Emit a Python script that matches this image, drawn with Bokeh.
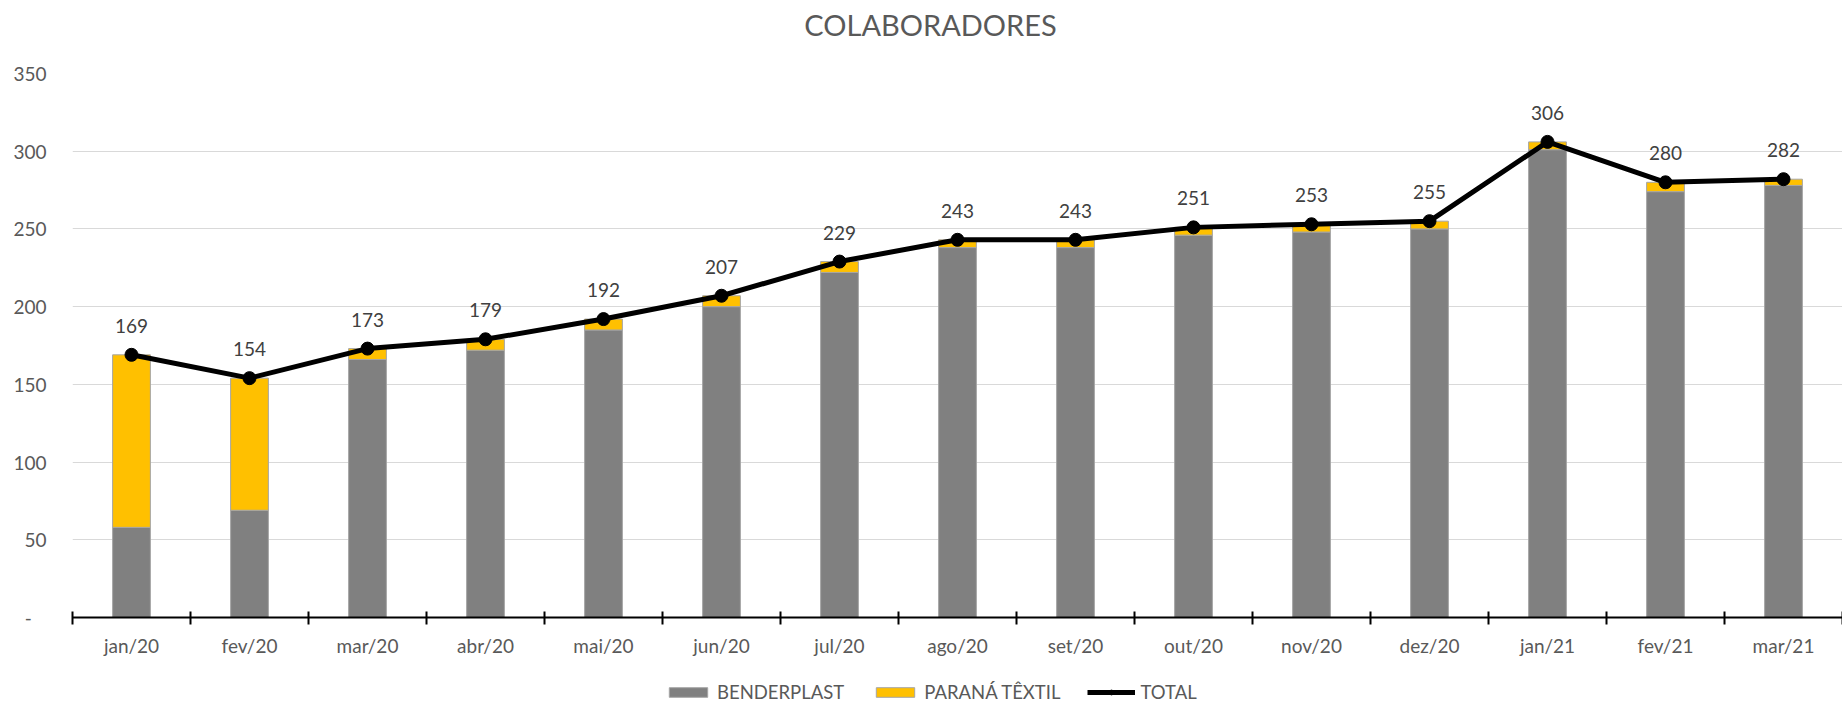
from bokeh.plotting import figure
from bokeh.layouts import column
from bokeh.models import Range1d, FixedTicker, Legend, LegendItem, ColumnDataSource, Label
from bokeh.core.properties import value
from bokeh.embed import file_html
from bokeh.resources import INLINE

months = ["jan/20", "fev/20", "mar/20", "abr/20", "mai/20", "jun/20", "jul/20", "ago/20",
          "set/20", "out/20", "nov/20", "dez/20", "jan/21", "fev/21", "mar/21"]
benderplast = [58, 69, 166, 172, 185, 200, 222, 238, 238, 246, 248, 250, 301, 274, 278]
parana = [111, 85, 7, 7, 7, 7, 7, 5, 5, 5, 5, 5, 5, 6, 4]
total = [169, 154, 173, 179, 192, 207, 229, 243, 243, 251, 253, 255, 306, 280, 282]
series_names = ["BENDERPLAST", "PARANÁ TÊXTIL", "TOTAL"]
chart_title = "COLABORADORES"
y_ticks = [0, 50, 100, 150, 200, 250, 300, 350]

FONT = "Lato"
GRAY_TXT = "#595959"
C_BENDER = "#808080"
C_PARANA = "#FFC000"
C_OUTLINE = "#A5A5A5"
W = 1842
LEFT = 72


def bare(height):
    f = figure(width=W, height=height, x_range=Range1d(-0.5, len(months) - 0.5),
               y_range=Range1d(1000, 1001), output_backend="svg", toolbar_location=None,
               x_axis_location=None, y_axis_location=None,
               min_border_left=LEFT, min_border_right=0, min_border_top=0, min_border_bottom=0)
    f.grid.visible = False
    f.outline_line_color = None
    return f


xs = list(range(len(months)))
src = ColumnDataSource(dict(x=xs, b=benderplast, p=parana, t=total,
                            tl=[str(v) for v in total]))

# ---- title strip
tf = bare(53)
tf.add_layout(Label(x=858, y=29.5, x_units="screen", y_units="screen", text=chart_title,
                    text_align="center", text_baseline="middle", text_font=FONT,
                    text_font_size="29px", text_color=GRAY_TXT))

# ---- main chart
p = figure(width=W, height=615, x_range=Range1d(-0.5, len(months) - 0.5),
           y_range=Range1d(0, 350), output_backend="svg", toolbar_location=None,
           min_border_left=LEFT, min_border_right=0, min_border_top=20, min_border_bottom=51)
p.outline_line_color = None

xa = p.xaxis[0]
xa.ticker = FixedTicker(ticks=xs, minor_ticks=[i - 0.5 for i in range(len(months) + 1)])
xa.major_label_overrides = {i: m for i, m in enumerate(months)}
xa.major_tick_line_color = None
xa.major_tick_in = 0
xa.major_tick_out = 0
xa.minor_tick_in = 6
xa.minor_tick_out = 7
xa.minor_tick_line_color = "black"
xa.minor_tick_line_width = 2
xa.axis_line_color = "black"
xa.axis_line_width = 2
xa.major_label_standoff = 9
xa.major_label_text_font = FONT
xa.major_label_text_font_size = "19px"
xa.major_label_text_color = GRAY_TXT

ya = p.yaxis[0]
ya.ticker = FixedTicker(ticks=y_ticks)
ya.major_label_overrides = {0: "-\u00a0\u00a0\u00a0"}
ya.axis_line_color = None
ya.major_tick_line_color = None
ya.minor_tick_line_color = None
ya.major_tick_in = 0
ya.major_tick_out = 0
ya.major_label_standoff = 26
ya.major_label_text_font = FONT
ya.major_label_text_font_size = "19px"
ya.major_label_text_color = GRAY_TXT

p.xgrid.visible = False
p.ygrid.ticker = FixedTicker(ticks=y_ticks)
p.ygrid.grid_line_color = "#D9D9D9"
p.ygrid.grid_line_width = 1

p.vbar_stack(["b", "p"], x="x", width=0.32, source=src,
             fill_color=[C_BENDER, C_PARANA], line_color=C_OUTLINE, line_width=1)
p.line("x", "t", source=src, line_width=5, line_color="black")
p.scatter("x", "t", source=src, size=13, fill_color="black", line_color="black")
p.text("x", "t", text="tl", source=src, text_align="center", text_baseline="middle",
       y_offset=-29, text_font=value(FONT), text_font_size="19px", text_color="#404040")

# ---- legend strip (same series, drawn outside its visible y range; only legend shows)
lg = bare(36)
r1 = lg.vbar(x="x", top="b", width=0.32, source=src, fill_color=C_BENDER, line_color=C_OUTLINE)
r2 = lg.vbar(x="x", top="p", width=0.32, source=src, fill_color=C_PARANA, line_color=C_OUTLINE)
r3 = lg.line(x="x", y="t", source=src, line_width=5, line_color="black")
r4 = lg.scatter(x="x", y="t", source=src, size=13, fill_color="black", line_color="black")

legend = Legend(items=[LegendItem(label=series_names[0], renderers=[r1]),
                       LegendItem(label=series_names[1], renderers=[r2]),
                       LegendItem(label=series_names[2], renderers=[r3, r4])],
                orientation="horizontal", location=(592, 1),
                glyph_width=48, glyph_height=12, label_standoff=5, spacing=27,
                padding=0, margin=0, border_line_color=None, background_fill_alpha=0,
                label_text_font=FONT, label_text_font_size="18.5px",
                label_text_color=GRAY_TXT, label_height=20)
lg.add_layout(legend)

open("out.html", "w").write(file_html(column(tf, p, lg, spacing=0), INLINE))
